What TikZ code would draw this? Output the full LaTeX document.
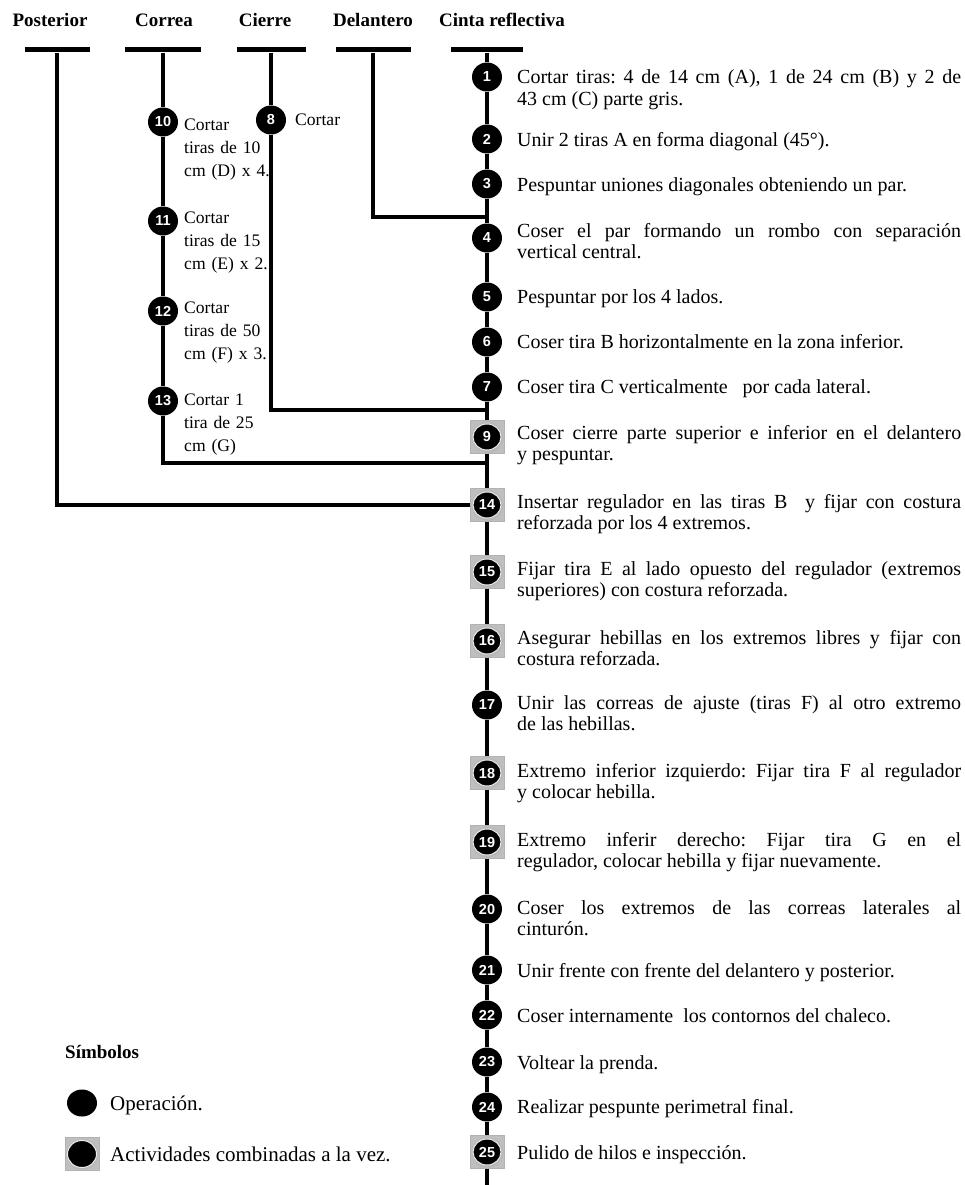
\documentclass[tikz,border=0pt]{standalone}
\usepackage{fontspec}
\setmainfont{Liberation Serif}
\newfontfamily\numfont{Liberation Sans}
\usetikzlibrary{shapes.geometric}
\frenchspacing
\newcommand\mybody{\fontsize{20}{21.8}\selectfont\tolerance=10000\hbadness=10000\hyphenpenalty=10000\exhyphenpenalty=10000}
\begin{document}
\begin{tikzpicture}[x=1pt,y=-1pt,
  ln/.style={line width=4pt, line join=miter},
  bar/.style={rectangle, fill=black, minimum height=5pt, inner sep=0pt},
  hdr/.style={anchor=base, font=\bfseries\fontsize{19}{22}\selectfont, inner sep=0pt},
  op/.style={ellipse, fill=black, minimum width=30pt, minimum height=29pt, inner sep=0pt, text=white, font=\numfont\bfseries\fontsize{14.5}{14.5}\selectfont},
  combo/.style={rectangle, inner color=gray!95, outer color=gray!50, draw=gray!60, line width=0.6pt, minimum width=34pt, minimum height=33pt, inner sep=0pt},
  opin/.style={op, draw=white!85!gray, line width=1pt, minimum width=28pt, minimum height=26pt},
  txt/.style={anchor=base west, inner sep=0pt, text width=444pt, align=justify, font=\mybody},
  stxt/.style={anchor=base west, inner sep=0pt, text width=110pt, align=left, font=\fontsize{17.6}{23}\selectfont},
  leg/.style={anchor=base west, inner sep=0pt, font=\fontsize{21}{24}\selectfont}]
\useasboundingbox[fill=white] (0,0) rectangle (965,1185);

% headers
\node[hdr] (hpost) at (50,27) {Posterior};
\node[hdr] (hcor) at (164,27) {Correa};
\node[hdr] (hcie) at (265,27) {Cierre};
\node[hdr] (hdel) at (373,27) {Delantero};
\node[hdr] (hcin) at (502,27) {Cinta reflectiva};

% bars
\node[bar, minimum width=65pt] (postbar) at (57,50) {};
\node[bar, minimum width=76pt] (corbar) at (163,50) {};
\node[bar, minimum width=69pt] (ciebar) at (271,50) {};
\node[bar, minimum width=75pt] (delbar) at (373,50) {};
\node[bar, minimum width=72pt] (cinbar) at (487,50) {};

% main operations
\foreach \n/\y in {1/77,2/139,3/184,4/238,5/297,6/342,7/387,17/705,20/909,21/970,22/1015,23/1062,24/1107}
  \node[op] (n\n) at (487,\y) {\n};
\foreach \n/\y in {9/437,14/505,15/572,16/641,18/773,19/842,25/1152}{
  \node[combo] (n\n) at (487,\y) {};
  \node[opin] (n\n c) at (487,\y) {\n};
}

% side operations
\node[op] (n8) at (271,120) {8};
\node[op] (n10) at (163,122) {10};
\node[op] (n11) at (163,221) {11};
\node[op] (n12) at (163,311) {12};
\node[op] (n13) at (163,401) {13};

% junctions
\coordinate (j3) at (487,217);
\coordinate (j8) at (487,410);
\coordinate (j13) at (487,463);
\coordinate (mend) at (487,1185);

% connectors
\foreach \a/\b in {cinbar/n1,n1/n2,n2/n3,n3/n4,n4/n5,n5/n6,n6/n7,n7/n9,n9/n14,n14/n15,n15/n16,n16/n17,n17/n18,n18/n19,n19/n20,n20/n21,n21/n22,n22/n23,n23/n24,n24/n25,n25/mend,corbar/n10,n10/n11,n11/n12,n12/n13,ciebar/n8}
  \draw[ln] (\a) -- (\b);
\draw[ln] (delbar) |- (j3);
\draw[ln] (n8) |- (j8);
\draw[ln] (n13) |- (j13);
\draw[ln] (postbar) |- (n14.west);

% main texts
\node[txt] (t1) at (517,84) {Cortar tiras: 4 de 14 cm (A), 1 de 24 cm (B) y 2 de \linebreak 43 cm (C) parte gris.};
\node[txt] (t2) at (517,147) {Unir 2 tiras A en forma diagonal (45°).};
\node[txt] (t3) at (517,192) {Pespuntar uniones diagonales obteniendo un par.};
\node[txt] (t4) at (517,237) {Coser el par formando un rombo con separación \linebreak vertical central.};
\node[txt] (t5) at (517,303) {Pespuntar por los 4 lados.};
\node[txt] (t6) at (517,348) {Coser tira B horizontalmente en la zona inferior.};
\node[txt] (t7) at (517,393) {Coser tira C verticalmente\ \ \ por cada lateral.};
\node[txt] (t9) at (517,439) {Coser cierre parte superior e inferior en el delantero \linebreak y pespuntar.};
\node[txt] (t14) at (517,508) {Insertar regulador en las tiras B\ \ y fijar con costura \linebreak reforzada por los 4 extremos.};
\node[txt] (t15) at (517,575) {Fijar tira E al lado opuesto del regulador (extremos \linebreak superiores) con costura reforzada.};
\node[txt] (t16) at (517,644) {Asegurar hebillas en los extremos libres y fijar con \linebreak costura reforzada.};
\node[txt] (t17) at (517,709) {Unir las correas de ajuste (tiras F) al otro extremo \linebreak de las hebillas.};
\node[txt] (t18) at (517,777) {Extremo inferior izquierdo: Fijar tira F al regulador \linebreak y colocar hebilla.};
\node[txt] (t19) at (517,846) {Extremo inferir derecho: Fijar tira G en el \linebreak regulador, colocar hebilla y fijar nuevamente.};
\node[txt] (t20) at (517,914) {Coser los extremos de las correas laterales al \linebreak cinturón.};
\node[txt] (t21) at (517,977) {Unir frente con frente del delantero y posterior.};
\node[txt] (t22) at (517,1022) {Coser internamente\ \ los contornos del chaleco.};
\node[txt] (t23) at (517,1069) {Voltear la prenda.};
\node[txt] (t24) at (517,1113) {Realizar pespunte perimetral final.};
\node[txt] (t25) at (517,1159) {Pulido de hilos e inspección.};

% side texts
\node[stxt] (t8) at (295,126) {Cortar};
\node[stxt] (t10) at (184,131) {Cortar\\tiras de 10\\cm (D) x 4.};
\node[stxt] (t11) at (184,223) {Cortar\\tiras de 15\\cm (E) x 2.};
\node[stxt] (t12) at (184,313) {Cortar\\tiras de 50\\cm (F) x 3.};
\node[stxt] (t13) at (184,405) {Cortar 1\\tira de 25\\cm (G)};

% legend
\node[anchor=base west, inner sep=0pt, font=\bfseries\fontsize{19}{22}\selectfont] (lsym) at (65,1058) {Símbolos};
\node[op, minimum width=30pt, minimum height=27pt] (lop) at (82,1103) {};
\node[leg] (lopt) at (110,1110) {Operación.};
\node[combo, minimum width=34pt, minimum height=33pt] (lcombo) at (82,1154) {};
\node[opin, minimum width=29pt, minimum height=27pt] (lcomboc) at (82,1154) {};
\node[leg] (lcombot) at (110,1161) {Actividades combinadas a la vez.};
\end{tikzpicture}
\end{document}
